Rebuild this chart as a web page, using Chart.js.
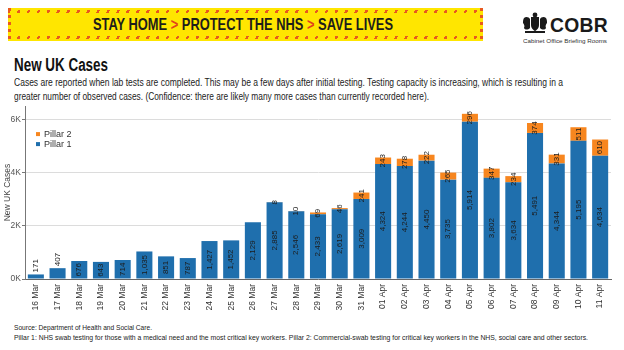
<!DOCTYPE html>
<html>
<head>
<meta charset="utf-8">
<script src="https://cdn.jsdelivr.net/npm/chart.js@4.4.1/dist/chart.umd.min.js"></script>
<style>
  html, body { margin:0; padding:0; background:#fff; }
  body { width:624px; height:350px; position:relative; overflow:hidden; font-family:"Liberation Sans", Arial, sans-serif; }
  .abs { position:absolute; white-space:nowrap; transform-origin:0 0; }
  #banner { position:absolute; left:8px; top:8px; width:475px; height:33px; background:#ffe600; overflow:hidden; }
  .stripeH { position:absolute; left:0; width:100%; height:3px;
    background:repeating-linear-gradient(115deg, #e8591f 0 2.5px, transparent 2.5px 9px); }
  .stripeV { position:absolute; top:0; height:100%; width:3px;
    background:repeating-linear-gradient(180deg, #e8591f 0 3px, transparent 3px 7px); }
  #bannerText { font-family:"Liberation Sans Narrow", "Liberation Sans", sans-serif; font-weight:bold; font-size:17px; line-height:17px; color:#1d1d1b; }
  #bannerText .chev { color:#e2401c; }
  #title { font-family:"Liberation Sans Narrow", sans-serif; font-weight:bold; font-size:18px; line-height:18px; color:#111; }
  .sub { font-family:"Liberation Sans Narrow", sans-serif; font-size:10.5px; line-height:11px; color:#222; }
  .foot { font-family:"Liberation Sans Narrow", sans-serif; font-size:7.5px; line-height:8px; color:#222; }
  #cobr { font-family:"Liberation Sans", sans-serif; font-weight:bold; font-size:21px; line-height:21px; color:#1a1a1a; letter-spacing:0.3px; }
  #cobrSub { font-family:"Liberation Sans Narrow", sans-serif; font-size:5.5px; line-height:6px; color:#333; }
  #chartBox { position:absolute; left:0; top:100px; width:624px; height:215px; }
</style>
</head>
<body>
<div id="banner">
  <div class="stripeH" style="top:2px"></div>
  <div class="stripeH" style="bottom:2px"></div>
  <div class="stripeV" style="left:0"></div>
  <div class="stripeV" style="right:0"></div>
</div>
<div id="bannerText" class="abs" data-w="300" style="left:93px; top:16px;">STAY HOME <span class="chev">&gt;</span> PROTECT THE NHS <span class="chev">&gt;</span> SAVE LIVES</div>

<svg class="abs" style="left:522px; top:12px;" width="26" height="22" viewBox="0 0 26 22">
  <g fill="#1a1a1a">
    <path d="M9 5 h8 v8 c0 4 -4 6 -4 6 c0 0 -4 -2 -4 -6z"/>
    <circle cx="13" cy="3" r="2.4"/>
    <path d="M2 6 c2 -2 5 -1 6 1 l0 9 c-2 2 -5 2 -6 0 c1 -2 0 -4 -1 -5 c0 -2 0 -3 1 -5z"/>
    <path d="M24 6 c-2 -2 -5 -1 -6 1 l0 9 c2 2 5 2 6 0 c-1 -2 0 -4 1 -5 c0 -2 0 -3 -1 -5z"/>
    <rect x="3" y="19" width="20" height="2"/>
  </g>
</svg>
<div id="cobr" class="abs" data-w="58" style="left:550px; top:14px;">COBR</div>
<div id="cobrSub" class="abs" data-w="84" style="left:523px; top:38px;">Cabinet Office Briefing Rooms</div>

<div id="title" class="abs" data-w="94" style="left:14px; top:56px;">New UK Cases</div>
<div class="abs sub" data-w="549" style="left:14px; top:77px;">Cases are reported when lab tests are completed. This may be a few days after initial testing. Testing capacity is increasing, which is resulting in a</div>
<div class="abs sub" data-w="415" style="left:14px; top:91px;">greater number of observed cases. (Confidence: there are likely many more cases than currently recorded here).</div>

<div id="chartBox"><canvas id="c" width="624" height="215"></canvas></div>

<div class="abs foot" data-w="138" style="left:14px; top:324px;">Source: Department of Health and Social Care.</div>
<div class="abs foot" data-w="574" style="left:14px; top:334px;">Pillar 1: NHS swab testing for those with a medical need and the most critical key workers. Pillar 2: Commercial-swab testing for critical key workers in the NHS, social care and other sectors.</div>

<script>
// ---- Data ----
const dates = ["16 Mar","17 Mar","18 Mar","19 Mar","20 Mar","21 Mar","22 Mar","23 Mar","24 Mar","25 Mar","26 Mar","27 Mar","28 Mar","29 Mar","30 Mar","31 Mar","01 Apr","02 Apr","03 Apr","04 Apr","05 Apr","06 Apr","07 Apr","08 Apr","09 Apr","10 Apr","11 Apr"];
const pillar1 = [171,407,676,643,714,1035,851,787,1427,1452,2129,2885,2546,2433,2619,3009,4324,4244,4450,3735,5914,3802,3634,5491,4344,5195,4634];
const pillar2 = [0,0,0,0,0,0,0,0,0,0,0,8,10,69,46,241,243,278,222,265,296,347,234,374,331,511,610];
const yTickValues = [0,2000,4000,6000];
const yTickLabels = ["0K","2K","4K","6K"];

// ---- fit text widths ----
document.querySelectorAll('[data-w]').forEach(el => {
  const w = el.getBoundingClientRect().width;
  const t = parseFloat(el.dataset.w);
  if (w > 0) el.style.transform = 'scaleX(' + (t / w) + ')';
});

const BLUE = '#1f6fad';
const ORANGE = '#f7861f';

const labelPlugin = {
  id: 'barLabels',
  afterDatasetsDraw(chart) {
    const ctx = chart.ctx;
    ctx.save();
    ctx.font = '8px "Liberation Sans", Arial, sans-serif';
    ctx.fillStyle = '#1c1c1c';
    chart.data.datasets.forEach((ds, di) => {
      const meta = chart.getDatasetMeta(di);
      meta.data.forEach((el, j) => {
        const v = ds.data[j];
        if (!v) return;
        const p = el.getProps(['x','y','base'], true);
        const txt = v.toLocaleString('en-US');
        const tw = ctx.measureText(txt).width;
        const h = p.base - p.y;
        ctx.save();
        if (di === 0 && tw > h) {
          ctx.translate(p.x, p.y - 2);
          ctx.rotate(-Math.PI / 2);
          ctx.textAlign = 'left';
          ctx.textBaseline = 'middle';
          ctx.fillText(txt, 0, 0);
        } else {
          ctx.translate(p.x, (p.y + p.base) / 2);
          ctx.rotate(-Math.PI / 2);
          ctx.textAlign = 'center';
          ctx.textBaseline = 'middle';
          ctx.fillText(txt, 0, 0);
        }
        ctx.restore();
      });
    });
    ctx.restore();
  }
};

const legendPlugin = {
  id: 'innerLegend',
  afterDraw(chart) {
    const ctx = chart.ctx;
    const a = chart.chartArea;
    ctx.save();
    ctx.font = '9px "Liberation Sans", Arial, sans-serif';
    ctx.textBaseline = 'middle';
    const order = [1, 0];
    order.forEach((di, k) => {
      const ds = chart.data.datasets[di];
      const y = a.top + 28 + k * 10;
      ctx.fillStyle = ds.backgroundColor;
      ctx.fillRect(a.left + 11, y - 2, 4, 4);
      ctx.fillStyle = '#333';
      ctx.fillText(ds.label, a.left + 19, y);
    });
    ctx.restore();
  }
};

new Chart(document.getElementById('c'), {
  type: 'bar',
  data: {
    labels: dates,
    datasets: [
      { label: 'Pillar 1', data: pillar1, backgroundColor: BLUE, barPercentage: 0.74, categoryPercentage: 1.0 },
      { label: 'Pillar 2', data: pillar2, backgroundColor: ORANGE, barPercentage: 0.74, categoryPercentage: 1.0 }
    ]
  },
  options: {
    responsive: false,
    animation: false,
    devicePixelRatio: 1,
    layout: { padding: { left: 3, right: 13, top: 5, bottom: 0 } },
    plugins: { legend: { display: false }, tooltip: { enabled: false } },
    scales: {
      x: {
        stacked: true,
        grid: { display: false, drawTicks: true, tickLength: 3 },
        border: { color: '#666', width: 1 },
        ticks: {
          autoSkip: false, maxRotation: 90, minRotation: 90, padding: 2,
          color: '#333', font: { family: 'Liberation Sans', size: 8.5 }
        },
        afterFit(scale) { scale.height = 36; }
      },
      y: {
        stacked: true,
        min: 0, max: 6500,
        afterBuildTicks(scale) { scale.ticks = yTickValues.map(v => ({ value: v })); },
        grid: { color: '#dcdcdc', lineWidth: 1, tickLength: 3, tickColor: '#777' },
        border: { color: '#777', width: 1 },
        ticks: {
          padding: 1, color: '#555', font: { family: 'Liberation Sans', size: 8.5 },
          callback(v) { const i = yTickValues.indexOf(v); return i >= 0 ? yTickLabels[i] : ''; }
        },
        title: { display: true, text: 'New UK Cases', color: '#444', padding: 0, font: { family: 'Liberation Sans', size: 8.5 } },
        afterFit(scale) { scale.width = 22; }
      }
    }
  },
  plugins: [labelPlugin, legendPlugin]
});
</script>
</body>
</html>
